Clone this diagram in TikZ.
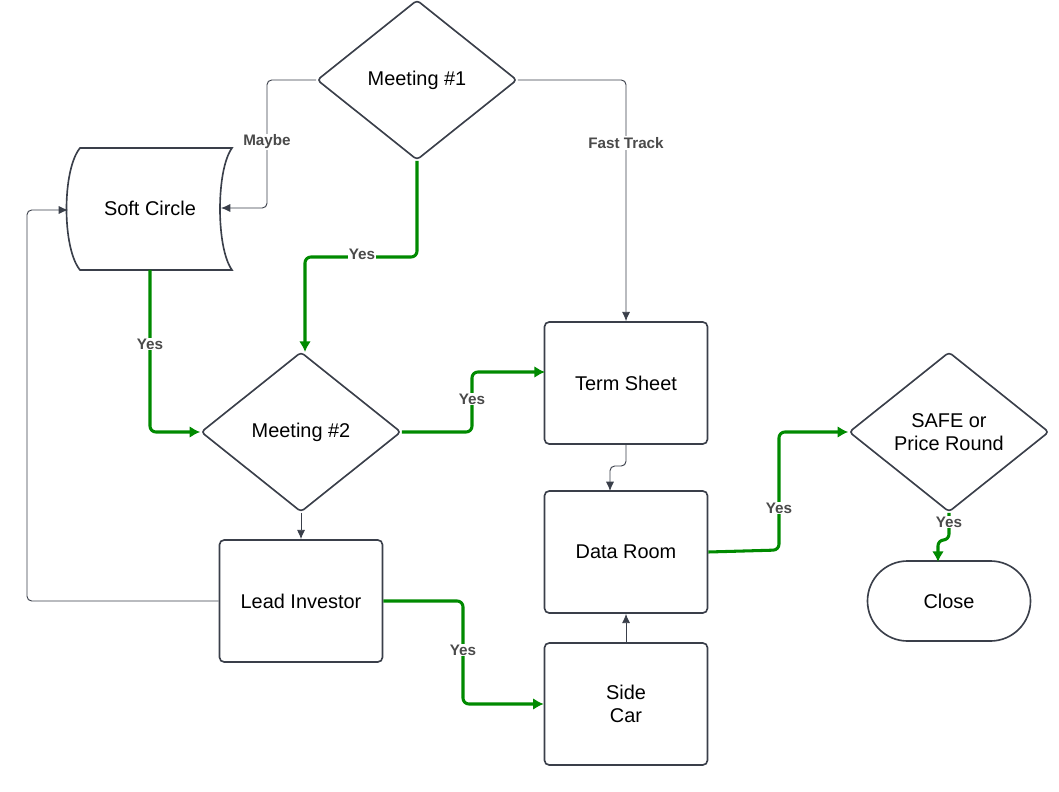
\documentclass[tikz,border=0pt]{standalone}
\usepackage{fontspec}
\setmainfont{Liberation Sans}
\usetikzlibrary{shapes.geometric,arrows.meta}
\definecolor{ln}{HTML}{3A3F4A}
\definecolor{gr}{HTML}{008A00}
\definecolor{lb}{HTML}{4A4A4A}
\begin{document}
\begin{tikzpicture}[x=0.03cm,y=-0.03cm,
  box/.style={draw=ln,line width=1.4pt,rounded corners=4pt,minimum width=4.89cm,minimum height=3.66cm,font=\fontsize{17}{20}\selectfont,align=center},
  dia/.style={draw=ln,line width=1.4pt,diamond,aspect=1.25,minimum width=6cm,minimum height=4.8cm,inner sep=0pt,font=\fontsize{17}{20}\selectfont,align=center,rounded corners=3pt},
  thin/.style={draw=ln,line width=0.8pt,rounded corners=4pt,-{Latex[length=8pt,width=7pt]}},
  grn/.style={draw=gr,line width=2.6pt,rounded corners=5pt,-{Latex[length=9pt,width=10pt]}},
  lab/.style={fill=white,inner sep=1pt,text=lb,font=\fontsize{13}{15}\selectfont\bfseries}]
\useasboundingbox (0,0) rectangle (1059,792);
\node[dia] (m1) at (417,80) {Meeting \#1};
\node[dia] (m2) at (301,432) {Meeting \#2};
\node[dia] (safe) at (949,432) {SAFE or\\Price Round};
\node[box] (ts) at (626,383) {Term Sheet};
\node[box] (dr) at (626,552) {Data Room};
\node[box] (sc) at (626,704) {Side\\Car};
\node[box] (li) at (301,601) {Lead Investor};
\node[draw=ln,line width=1.4pt,rounded corners=1.2cm,minimum width=4.89cm,minimum height=2.4cm,font=\fontsize{17}{20}\selectfont] (cl) at (949,601) {Close};
% soft circle (stored data)
\draw[ln,line width=1.4pt] (80,148) -- (232,148) .. controls (216,170) and (216,248) .. (232,270) -- (80,270) .. controls (62,248) and (62,170) .. (80,148) -- cycle;
\node[minimum width=4.9cm,minimum height=3.66cm,font=\fontsize{17}{20}\selectfont] (sfc) at (150,208) {Soft Circle};
\coordinate (sfr) at (221,208);
\coordinate (sfl) at (68,210);
% connectors
\draw[thin] (m1.west) -- (267,80) -- (267,208) -- (sfr);
\node[lab] at (267,142) {Maybe};
\draw[thin] (m1.east) -- (626,80) -- (ts.north);
\node[lab] at (626,143) {Fast Track};
\draw[grn] (m1.south) -- (417,257) -- (305,257) -- (305,352);
\node[lab] at (362,254) {Yes};
\draw[grn] (150,270) -- (150,432) -- (m2.west);
\node[lab] at (150,344) {Yes};
\draw[grn] (m2.east) -- (472,432) -- (472,372) -- (545,372);
\node[lab] at (472,399) {Yes};
\draw[thin] (m2.south) -- (li.north);
\draw[thin] (li.west) -- (27,601) -- (27,210) -- (sfl);
\draw[grn] (li.east) -- (463,601) -- (463,704) -- (sc.west);
\node[lab] at (463,650) {Yes};
\draw[thin] (ts.south) -- (626,466) -- (610,466) -- (610,491);
\draw[thin] (sc.north) -- (dr.south);
\draw[grn] (dr.east) -- (779,550) -- (779,432) -- (safe.west);
\node[lab] at (779,508) {Yes};
\draw[grn] (safe.south) -- (949,540) -- (938,540) -- (938,562);
\node[lab] at (949,522) {Yes};
\end{tikzpicture}
\end{document}
